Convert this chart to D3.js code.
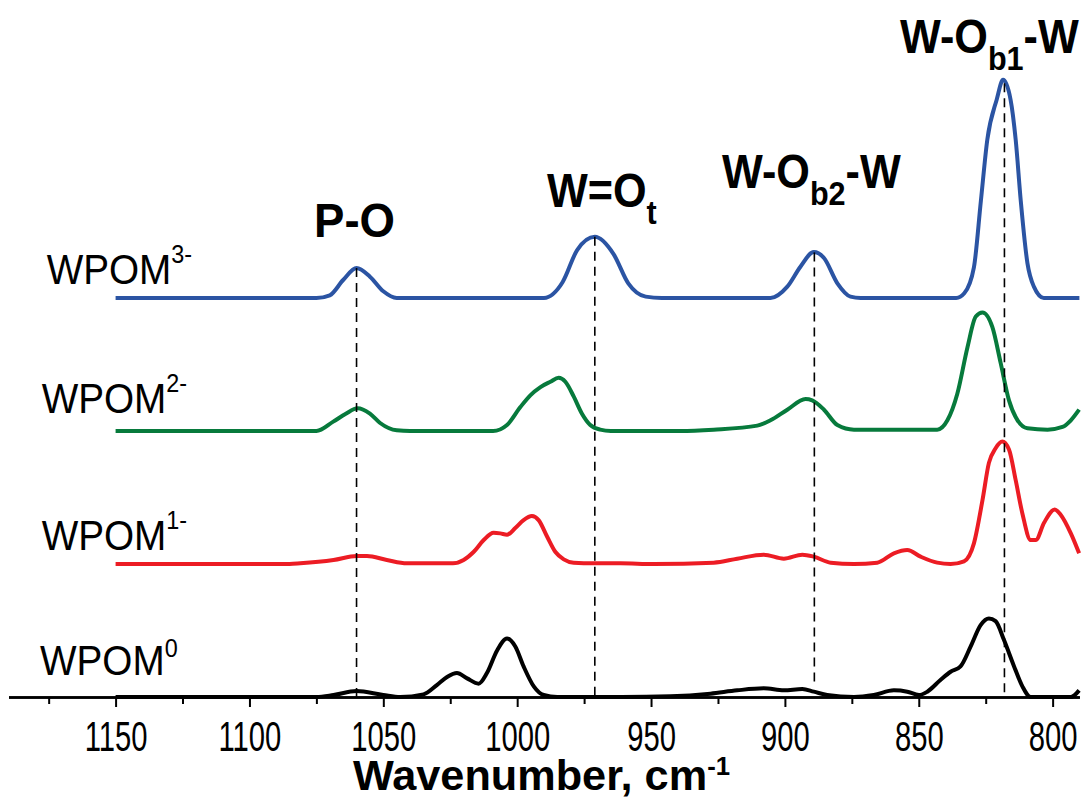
<!DOCTYPE html>
<html>
<head>
<meta charset="utf-8">
<script src="https://cdn.jsdelivr.net/npm/d3@7"></script>
<style>
  html, body { margin: 0; padding: 0; background: #fff; }
  svg { display: block; font-family: "Liberation Sans", Arial, sans-serif; }
</style>
</head>
<body>
<svg id="chart" width="1083" height="799"></svg>
<script>
// spectra (wavenumber, absorbance above own baseline)
const wpom0Wn  = [1150,1075,1068.6,1060,1050,1043.7,1035,1030,1026.2,1022.5,1018.7,1014.4,1011.3,1007.5,1003.8,1000.7,997.6,993.8,990.1,985,961,942.7,927.8,917.8,907.9,900.4,893.5,889.2,884.2,874.2,866.8,859.3,854.3,849.9,846.8,841.8,838.1,834.4,830.6,826.9,823.8,821.3,818.2,814.4,811.3,808.2,801.9,793.2,790.1];
const wpom0Abs = [0,0,0.015,0.045,0.015,0,0.02,0.09,0.15,0.18,0.14,0.10,0.18,0.35,0.44,0.38,0.23,0.08,0.015,0,0,0.005,0.025,0.05,0.065,0.05,0.06,0.04,0.015,0,0.015,0.05,0.04,0.015,0.04,0.13,0.19,0.23,0.38,0.54,0.59,0.57,0.43,0.23,0.08,0,0,0,0.05];

const wpom1Wn  = [1150,1085,1081,1068.6,1059.9,1056.1,1048.7,1041.2,1024,1020,1016.3,1012.5,1008.8,1006.3,1003.8,1000.7,997.6,994.5,992,988.8,985.7,982.6,978.9,971.4,961.4,949,926.6,917.8,907.9,900.4,893.5,889.2,882.9,874.2,865.5,859.3,854.3,849.3,843.1,838.1,833.1,829.4,826.2,823.8,821.3,818.8,816.3,813.8,811.3,808.2,806.3,803.2,799.2,797,793.2,790.1];
const wpom1Abs = [0,0,0.005,0.03,0.06,0.06,0.03,0.005,0.005,0.03,0.09,0.18,0.235,0.23,0.22,0.27,0.33,0.36,0.33,0.205,0.09,0.035,0.01,0.005,0.005,0,0.01,0.04,0.07,0.04,0.07,0.055,0.01,0,0.01,0.08,0.105,0.055,0.01,0,0.02,0.155,0.48,0.76,0.87,0.92,0.86,0.63,0.38,0.18,0.18,0.31,0.41,0.37,0.23,0.08];

const wpom2Wn  = [1150,1075,1068.7,1064,1059.6,1055,1051.2,1045,1040,1009,1003.8,998.8,995,991.3,987.6,984.5,982,978.9,975.8,972.7,969,965,939,926.6,910.3,905.4,899.1,892.3,889.8,885.4,880.4,874.2,843.1,839.3,835.6,831.8,828.7,826.2,822.5,819.4,816.3,813.1,809.4,801.9,796.3,793.2,790.1];
const wpom2Abs = [0,0,0.07,0.13,0.17,0.13,0.06,0.005,0,0,0.045,0.18,0.27,0.33,0.37,0.40,0.37,0.26,0.13,0.045,0.01,0,0,0.01,0.04,0.08,0.16,0.24,0.23,0.16,0.045,0.01,0.01,0.08,0.28,0.63,0.86,0.89,0.78,0.51,0.23,0.08,0.02,0.01,0.03,0.08,0.16];

const wpom3Wn  = [1150,1075,1070,1065,1060,1055,1050,1045,990,983,977.6,971,964,958.5,952,946,905.4,899.1,894.2,889.2,885.4,880.4,875.5,871.7,836,833,829.4,826.8,824.4,820.9,818.5,815.7,813.8,811.9,809.4,807,803.3,790];
const wpom3Abs = [0,0,0.02,0.135,0.225,0.16,0.05,0,0,0.12,0.36,0.46,0.33,0.11,0.01,0,0,0.085,0.235,0.345,0.30,0.11,0.01,0,0,0.035,0.23,0.73,1.19,1.49,1.64,1.49,1.19,0.73,0.26,0.085,0,0];

const seriesWn  = [wpom0Wn, wpom1Wn, wpom2Wn, wpom3Wn];
const seriesAbs = [wpom0Abs, wpom1Abs, wpom2Abs, wpom3Abs];
const seriesSup = ['0', '1-', '2-', '3-'];
const seriesOffset = [0, 1, 2, 3];

// band assignments (dashed markers)
const bandWn = [1060, 971, 889, 818];
const bandEnd = [0, 0, 0.1, 0];
const bandLabels = [
  [{t: 'P-O'}],
  [{t: 'W=O'}, {t: 't', sub: true}],
  [{t: 'W-O'}, {t: 'b2', sub: true}, {t: '-W'}],
  [{t: 'W-O'}, {t: 'b1', sub: true}, {t: '-W'}]
];

const xMajor = [1150, 1100, 1050, 1000, 950, 900, 850, 800];
const xMinor = [1175, 1125, 1075, 1025, 975, 925, 875, 825];

const colors = ['#000000', '#ec1c24', '#077a3c', '#2b54a3'];
const labelPos = [[40, 675], [41.7, 550], [41.7, 413], [46.7, 284]];
const bandLabelPos = [[314, 237], [547, 207], [722, 188], [900, 53]];

const svg = d3.select('#chart');
svg.append('rect').attr('width', 1083).attr('height', 799).attr('fill', '#fff');

const x = d3.scaleLinear().domain([1190, 790]).range([8.5, 1079.4]);
const y = d3.scaleLinear().domain([0, 5.24]).range([697, 0]);

// bottom axis
const axisG = svg.append('g').attr('transform', `translate(0,${y(0)})`);
axisG.call(d3.axisBottom(x).tickValues(xMinor).tickSize(7).tickSizeOuter(0).tickFormat(''));
const majorG = svg.append('g').attr('transform', `translate(0,${y(0)})`);
majorG.call(d3.axisBottom(x).tickValues(xMajor).tickSize(10).tickSizeOuter(0).tickFormat(d3.format('d')));
svg.selectAll('.domain').attr('stroke', '#000').attr('stroke-width', 2.5);
svg.selectAll('.tick line').attr('stroke', '#000').attr('stroke-width', 2);
majorG.selectAll('.tick text')
  .attr('y', 54).attr('dy', 0)
  .attr('fill', '#000')
  .style('font-size', '43px')
  .style('font-family', '"Liberation Sans", Arial, sans-serif')
  .attr('transform', 'scale(0.68,1)');

// spectra
seriesWn.forEach((wn, i) => {
  const pts = wn.map((w, j) => [w, seriesAbs[i][j]]);
  const line = d3.line()
    .x(d => x(d[0]))
    .y(d => y(d[1] + seriesOffset[i]))
    .curve(d3.curveMonotoneX);
  svg.append('path')
    .datum(pts)
    .attr('d', line)
    .attr('fill', 'none')
    .attr('stroke', colors[i])
    .attr('stroke-width', 4)
    .attr('stroke-linejoin', 'round');
});

// value of the top spectrum at a wavenumber (linear interpolation)
function topValue(w) {
  const wn = wpom3Wn, ab = wpom3Abs;
  for (let j = 0; j < wn.length - 1; j++) {
    if (w <= wn[j] && w >= wn[j + 1]) {
      const t = (wn[j] - w) / (wn[j] - wn[j + 1]);
      return ab[j] + t * (ab[j + 1] - ab[j]);
    }
  }
  return 0;
}

// dashed markers
bandWn.forEach((w, i) => {
  svg.append('line')
    .attr('x1', x(w)).attr('x2', x(w))
    .attr('y1', y(3 + topValue(w)))
    .attr('y2', y(bandEnd[i]))
    .attr('stroke', '#000')
    .attr('stroke-width', 1.6)
    .attr('stroke-dasharray', '9,6');
});

// text helper: parts with optional sub/superscripts
function addText(px, py, parts, size, subSize, weight, sx, shift) {
  const t = svg.append('text')
    .attr('transform', `translate(${px},${py}) scale(${sx},1)`)
    .attr('font-size', size)
    .attr('font-weight', weight)
    .attr('fill', '#000');
  let off = 0;
  parts.forEach(p => {
    const s = t.append('tspan').text(p.t);
    const target = p.sub ? shift : (p.sup ? -shift : 0);
    if (p.sub || p.sup) s.attr('font-size', subSize);
    s.attr('dy', target - off);
    off = target;
  });
  return t;
}

// series labels
seriesSup.forEach((sup, i) => {
  addText(labelPos[i][0], labelPos[i][1],
    [{t: 'WPOM'}, {t: sup, sup: true}], 43, 26, 'normal', 0.9, i === 0 ? 18 : 21);
});

// band labels
bandLabels.forEach((parts, i) => {
  addText(bandLabelPos[i][0], bandLabelPos[i][1], parts, 48, 34, 'bold', i === 0 ? 0.95 : 0.9, 17);
});

// axis title
addText(353, 790, [{t: 'Wavenumber, cm'}, {t: '-1', sup: true}], 42, 25, 'bold', 1.03, 15);
</script>
</body>
</html>
